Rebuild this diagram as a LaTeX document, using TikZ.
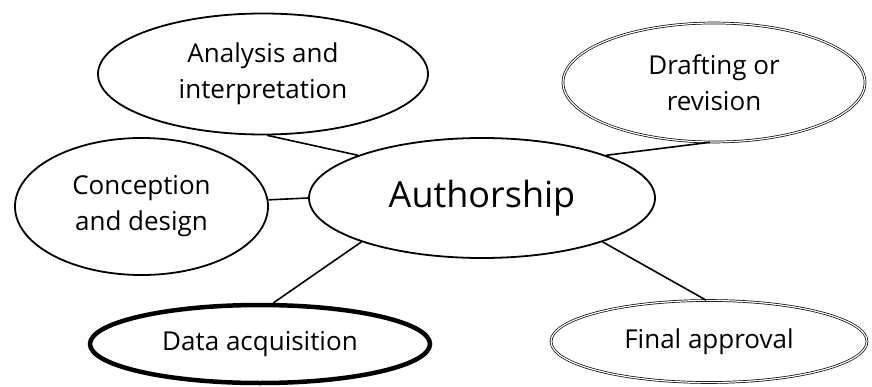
\documentclass[tikz,border=0pt]{standalone}
\usepackage{fontspec}
\setmainfont{Open Sans}
\usetikzlibrary{shapes.geometric}
\tikzset{
  lbl/.style={align=center, font=\fontsize{26}{36}\selectfont},
  bub/.style={ellipse, draw=black, line width=1.8pt, inner sep=0pt, lbl},
  dbl/.style={ellipse, draw=black, line width=0.7pt, double, double distance=1.2pt, inner sep=0pt, lbl},
  heavy/.style={ellipse, draw=black, line width=4.5pt, inner sep=0pt, lbl},
  link/.style={draw=black, line width=1.6pt}
}
\begin{document}
\begin{tikzpicture}[x=1pt,y=1pt]
\useasboundingbox (0,0) rectangle (872,386);
\node[bub, minimum width=346pt, minimum height=120pt, font=\fontsize{36}{40}\selectfont] (auth) at (482,188) {Authorship};
\node[bub, minimum width=330pt, minimum height=121pt] (ana) at (263,312) {Analysis and\\interpretation};
\node[dbl, minimum width=302pt, minimum height=119pt] (draft) at (714,303.5) {Drafting or\\revision};
\node[bub, minimum width=253pt, minimum height=137pt] (conc) at (141.5,179.5) {Conception\\and design};
\node[heavy, minimum width=340pt, minimum height=78pt] (data) at (260,42) {Data acquisition};
\node[dbl, minimum width=316pt, minimum height=82pt] (final) at (709,44.5) {Final approval};
\draw[link] (ana.-86) -- (auth.161);
\draw[link] (draft.-94) -- (auth.19.6);
\draw[link] (conc.3.4) -- (auth.180);
\draw[link] (data.72) -- (auth.200);
\draw[link] (final.94) -- (auth.-20);
\end{tikzpicture}
\end{document}
